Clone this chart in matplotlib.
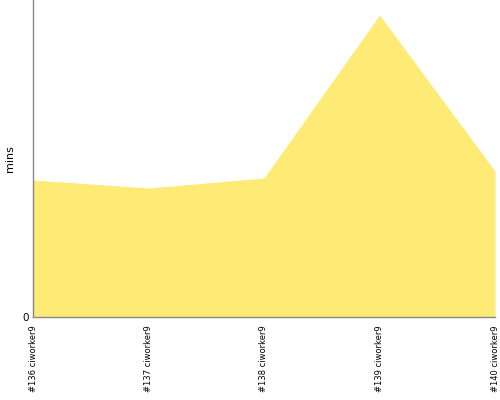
import matplotlib
matplotlib.use('Agg')
import matplotlib.pyplot as plt

builds = ['#136 ciworker9', '#137 ciworker9', '#138 ciworker9',
          '#139 ciworker9', '#140 ciworker9']
mins = [13.7, 12.9, 13.9, 30.2, 14.6]

fig = plt.figure(figsize=(5, 4), dpi=100)
ax = fig.add_axes([0.066, 0.2075, 0.924, 0.7925])

x = list(range(len(builds)))
ax.fill_between(x, mins, 0, color='#fdeb75', linewidth=0)

ax.set_xlim(0, len(builds) - 1)
ax.set_ylim(0, 31.7)
ax.set_xticks(x)
ax.set_xticklabels(builds, rotation=90, fontsize=6)
ax.set_yticks([0])
ax.set_yticklabels(['0'], fontsize=7.5)
ax.tick_params(axis='x', length=0, pad=6)
ax.tick_params(axis='y', length=0, pad=3)
ax.set_ylabel('mins', fontsize=8)
ax.yaxis.set_label_coords(-0.04, 0.5)

for s in ['top', 'right']:
    ax.spines[s].set_visible(False)
for s in ['left', 'bottom']:
    ax.spines[s].set_color('#888888')
    ax.spines[s].set_linewidth(1)

fig.savefig('out.png')
